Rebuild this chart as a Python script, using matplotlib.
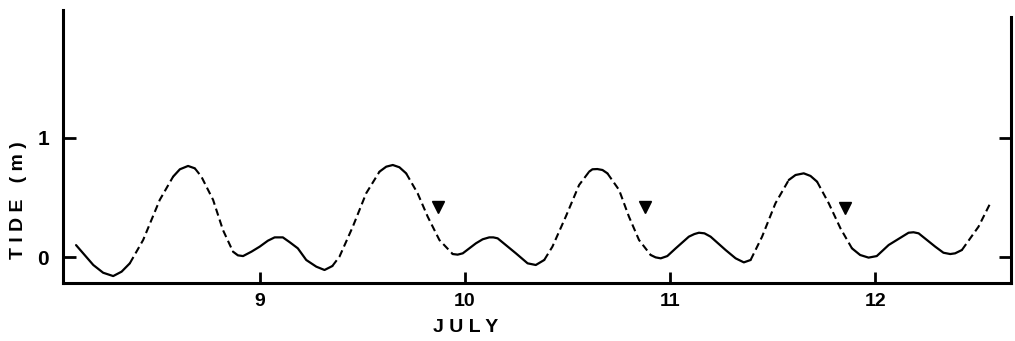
import numpy as np
import matplotlib.pyplot as plt

# Tide record, July 8-12 (day of month, metres)
day = [8.105, 8.189, 8.237, 8.286, 8.327, 8.367, 8.432, 8.513, 8.578, 8.611,
       8.651, 8.684, 8.716, 8.773, 8.821, 8.870, 8.894, 8.919, 8.960, 9.000,
       9.040, 9.073, 9.113, 9.146, 9.186, 9.227, 9.276, 9.316, 9.354, 9.389,
       9.454, 9.519, 9.584, 9.617, 9.649, 9.681, 9.714, 9.770, 9.819, 9.876,
       9.941, 9.965, 9.990, 10.054, 10.087, 10.119, 10.139, 10.160, 10.249, 10.306,
       10.346, 10.387, 10.427, 10.492, 10.557, 10.606, 10.622, 10.646, 10.671, 10.695,
       10.752, 10.800, 10.849, 10.906, 10.930, 10.955, 10.987, 11.028, 11.092, 11.119,
       11.141, 11.168, 11.198, 11.271, 11.320, 11.360, 11.393, 11.449, 11.514, 11.579,
       11.612, 11.652, 11.685, 11.717, 11.774, 11.831, 11.887, 11.927, 11.968, 12.008,
       12.066, 12.163, 12.187, 12.212, 12.293, 12.333, 12.366, 12.390, 12.423, 12.504,
       12.565]
tide = [0.100, -0.067, -0.132, -0.160, -0.123, -0.053, 0.143, 0.480, 0.675, 0.737,
        0.765, 0.745, 0.675, 0.480, 0.227, 0.045, 0.014, 0.008, 0.045, 0.087,
        0.137, 0.165, 0.165, 0.125, 0.073, -0.025, -0.081, -0.109, -0.076, 0.003,
        0.255, 0.535, 0.717, 0.759, 0.773, 0.754, 0.703, 0.535, 0.339, 0.143,
        0.025, 0.020, 0.031, 0.115, 0.149, 0.165, 0.165, 0.157, 0.031, -0.053,
        -0.067, -0.025, 0.087, 0.339, 0.605, 0.717, 0.737, 0.739, 0.731, 0.703,
        0.563, 0.339, 0.143, 0.017, -0.003, -0.011, 0.008, 0.073, 0.171, 0.193,
        0.204, 0.199, 0.171, 0.059, -0.011, -0.045, -0.025, 0.171, 0.451, 0.647,
        0.689, 0.703, 0.681, 0.633, 0.451, 0.241, 0.073, 0.017, -0.005, 0.008,
        0.101, 0.204, 0.208, 0.199, 0.087, 0.036, 0.025, 0.031, 0.059, 0.255,
        0.465]

# triangle markers
mark_day = [9.871, 10.878, 11.855]
mark_tide = [0.418, 0.423, 0.409]

day = np.array(day)
tide = np.array(tide)

plt.rcParams['font.family'] = 'Liberation Sans'
plt.rcParams['font.weight'] = 'bold'

fig = plt.figure(figsize=(10.15, 3.41), dpi=100)
ax = fig.add_axes([0.062, 0.170, 0.934, 0.801])

# steep parts of the trace came out broken, flat parts solid
slope = np.abs(np.gradient(tide, day))
steep = slope > 2.5
solid = np.ma.masked_where(steep, tide)
# keep one neighbour on each side so the runs join
flat = ~steep
grow = flat.copy()
grow[1:] &= flat[:-1]
grow[:-1] &= flat[1:]
dashed = np.ma.masked_where(grow, tide)
ax.plot(day, solid, color='black', lw=1.6, solid_capstyle='round',
        solid_joinstyle='round')
ax.plot(day, dashed, color='black', lw=1.5, ls=(0, (3.5, 2.0)))

ax.plot(mark_day, mark_tide, 'v', color='black', ms=8)

ax.set_xlim(8.041, 12.662)
ax.set_ylim(-0.2185, 2.076)
ax.set_xticks([9, 10, 11, 12])
ax.set_yticks([0, 1])
ax.spines['top'].set_visible(False)
ax.spines['right'].set_bounds(-0.2185, 2.02)
for s in ax.spines.values():
    s.set_linewidth(2.2)
ax.tick_params(axis='both', direction='in', width=2)
ax.tick_params(axis='x', length=8, pad=7, labelsize=14)
ax.tick_params(axis='y', length=9, pad=10, right=True, labelsize=15)
for lab in ax.get_xticklabels() + ax.get_yticklabels():
    lab.set_fontweight('bold')

fig.text(466 / 1015, 1 - 328 / 341, 'J U L Y', fontsize=14, fontweight='bold',
         ha='center', va='center')
fig.text(19 / 1015, 1 - 200 / 341, 'T I D E   ( m )', fontsize=14,
         fontweight='bold', ha='center', va='center', rotation=90)

fig.savefig('out.png', dpi=100)
